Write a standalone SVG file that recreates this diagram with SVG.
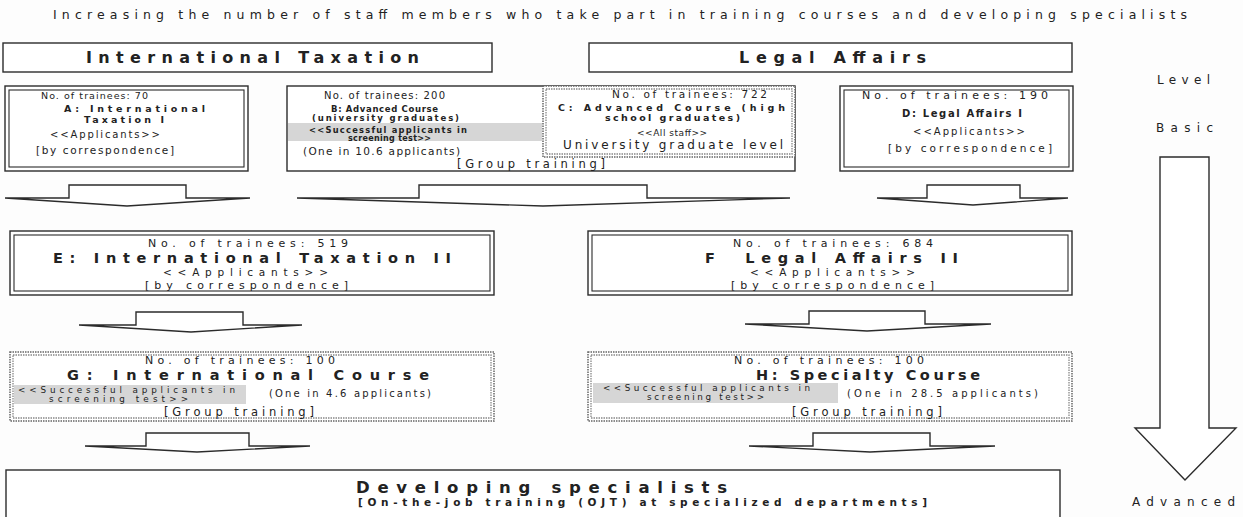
<svg xmlns="http://www.w3.org/2000/svg" width="1243" height="517" viewBox="0 0 1243 517">
<style>
text{font-family:"DejaVu Sans","Liberation Sans",Arial,sans-serif;fill:#222}
.b{font-weight:bold}
.box{fill:#fff;stroke:#2b2b2b;stroke-width:1.4}
.in{fill:none;stroke:#2b2b2b;stroke-width:1.1}
.dot{fill:#fff;stroke:#666;stroke-width:1.5;stroke-dasharray:1.5 1}
.dot2{fill:none;stroke:#888;stroke-width:1.3;stroke-dasharray:1.5 1}
.band{fill:#d6d6d6}
.arr{fill:#fff;stroke:#2b2b2b;stroke-width:1.4;stroke-linejoin:miter}
</style>
<rect width="1243" height="517" fill="#fdfdfd"/>
<text x="53" y="19" font-size="12.5" textLength="1134" lengthAdjust="spacing">Increasing the number of staff members who take part in training courses and developing specialists</text>

<g id="intl-tax">
<rect class="box" x="3" y="43" width="489" height="29"/>
<text class="b" x="86" y="63" font-size="16" textLength="333" lengthAdjust="spacing">International Taxation</text>
</g>
<g id="legal-affairs">
<rect class="box" x="589" y="43" width="483" height="29"/>
<text class="b" x="739" y="63" font-size="16" textLength="187" lengthAdjust="spacing">Legal Affairs</text>
</g>

<g id="level-scale">
<text x="1157" y="84" font-size="12" textLength="53" lengthAdjust="spacing">Level</text>
<text x="1156" y="132" font-size="12" textLength="57" lengthAdjust="spacing">Basic</text>
<polygon class="arr" points="1160,157 1209,157 1209,428 1236,428 1185,480 1135,428 1160,428"/>
<text x="1132" y="506" font-size="12" textLength="103" lengthAdjust="spacing">Advanced</text>
</g>

<g id="A">
<rect class="box" x="5" y="86" width="243" height="85"/>
<rect class="in" x="9" y="90" width="235" height="77"/>
<text x="41" y="99" font-size="9.5" textLength="107" lengthAdjust="spacing">No. of trainees: 70</text>
<text class="b" x="64" y="112" font-size="9.5" textLength="141" lengthAdjust="spacing">A: International</text>
<text class="b" x="84" y="122.5" font-size="9.5" textLength="80" lengthAdjust="spacing">Taxation I</text>
<text x="50" y="137.5" font-size="10" textLength="110" lengthAdjust="spacing">&lt;&lt;Applicants&gt;&gt;</text>
<text x="36" y="154" font-size="10.5" textLength="138" lengthAdjust="spacing">[by correspondence]</text>
</g>

<g id="B">
<rect class="box" x="287" y="86" width="508" height="85"/>
<rect class="band" x="288" y="123" width="254" height="18"/>
<text x="324" y="99" font-size="10" textLength="121" lengthAdjust="spacing">No. of trainees: 200</text>
<text class="b" x="331" y="111.5" font-size="8.5" textLength="107" lengthAdjust="spacing">B: Advanced Course</text>
<text class="b" x="312" y="120.5" font-size="8.5" textLength="147" lengthAdjust="spacing">(university graduates)</text>
<text class="b" x="309" y="132.5" font-size="8.3" textLength="158" lengthAdjust="spacing">&lt;&lt;Successful applicants in</text>
<text class="b" x="348" y="140.5" font-size="8" textLength="83" lengthAdjust="spacing">screening test&gt;&gt;</text>
<text x="303" y="154.5" font-size="10.5" textLength="157" lengthAdjust="spacing">(One in 10.6 applicants)</text>
<text x="457" y="168" font-size="11.5" textLength="148" lengthAdjust="spacing">[Group training]</text>
</g>

<g id="C">
<rect class="dot" x="543" y="86" width="252" height="71"/>
<rect class="dot2" x="546" y="89" width="246" height="65"/>
<text x="612" y="98" font-size="10.5" textLength="155" lengthAdjust="spacing">No. of trainees: 722</text>
<text class="b" x="558" y="111" font-size="9.5" textLength="227" lengthAdjust="spacing">C: Advanced Course (high</text>
<text class="b" x="605" y="120.5" font-size="9.5" textLength="135" lengthAdjust="spacing">school graduates)</text>
<text x="637" y="136" font-size="9" textLength="70" lengthAdjust="spacing">&lt;&lt;All staff&gt;&gt;</text>
<text x="563" y="149" font-size="12" textLength="220" lengthAdjust="spacing">University graduate level</text>
</g>

<g id="D">
<rect class="box" x="840" y="86" width="233" height="85"/>
<rect class="in" x="844" y="90" width="225" height="77"/>
<text x="862" y="99" font-size="11" textLength="186" lengthAdjust="spacing">No. of trainees: 190</text>
<text class="b" x="902" y="117" font-size="10" textLength="120" lengthAdjust="spacing">D: Legal Affairs I</text>
<text x="913" y="135" font-size="10" textLength="112" lengthAdjust="spacing">&lt;&lt;Applicants&gt;&gt;</text>
<text x="888" y="152" font-size="10.5" textLength="164" lengthAdjust="spacing">[by correspondence]</text>
</g>

<g id="E">
<rect class="box" x="10" y="231" width="484" height="64"/>
<rect class="in" x="14" y="235" width="476" height="56"/>
<text x="148" y="247" font-size="11" textLength="200" lengthAdjust="spacing">No. of trainees: 519</text>
<text class="b" x="53" y="263" font-size="14.5" textLength="398" lengthAdjust="spacing">E: International Taxation II</text>
<text x="163" y="276" font-size="10.5" textLength="165" lengthAdjust="spacing">&lt;&lt;Applicants&gt;&gt;</text>
<text x="145" y="288.5" font-size="11" textLength="203" lengthAdjust="spacing">[by correspondence]</text>
</g>

<g id="F">
<rect class="box" x="588" y="231" width="484" height="64"/>
<rect class="in" x="592" y="235" width="476" height="56"/>
<text x="733" y="247" font-size="11" textLength="200" lengthAdjust="spacing">No. of trainees: 684</text>
<text class="b" x="705" y="263" font-size="14.5" textLength="253" lengthAdjust="spacing" xml:space="preserve">F  Legal Affairs II</text>
<text x="750" y="276" font-size="10.5" textLength="165" lengthAdjust="spacing">&lt;&lt;Applicants&gt;&gt;</text>
<text x="731" y="288.5" font-size="11" textLength="203" lengthAdjust="spacing">[by correspondence]</text>
</g>

<g id="G">
<rect class="dot" x="10" y="352" width="484" height="69"/>
<rect class="dot2" x="13" y="355" width="478" height="63"/>
<rect class="band" x="14" y="385" width="232" height="19"/>
<text x="145" y="364" font-size="11" textLength="190" lengthAdjust="spacing">No. of trainees: 100</text>
<text class="b" x="67" y="380" font-size="14.5" textLength="362" lengthAdjust="spacing">G: International Course</text>
<text x="18" y="392.5" font-size="8.8" textLength="217" lengthAdjust="spacing">&lt;&lt;Successful applicants in</text>
<text x="49" y="401.5" font-size="8.8" textLength="139" lengthAdjust="spacing">screening test&gt;&gt;</text>
<text x="269" y="397" font-size="10" textLength="162" lengthAdjust="spacing">(One in 4.6 applicants)</text>
<text x="164" y="416" font-size="11.5" textLength="150" lengthAdjust="spacing">[Group training]</text>
</g>

<g id="H">
<rect class="dot" x="588" y="352" width="484" height="69"/>
<rect class="dot2" x="591" y="355" width="478" height="63"/>
<rect class="band" x="593" y="383" width="245" height="20"/>
<text x="734" y="364" font-size="11" textLength="190" lengthAdjust="spacing">No. of trainees: 100</text>
<text class="b" x="756" y="380" font-size="14.5" textLength="224" lengthAdjust="spacing">H: Specialty Course</text>
<text x="603" y="391" font-size="8.8" textLength="207" lengthAdjust="spacing">&lt;&lt;Successful applicants in</text>
<text x="647" y="400" font-size="8.8" textLength="117" lengthAdjust="spacing">screening test&gt;&gt;</text>
<text x="847" y="396.5" font-size="10" textLength="191" lengthAdjust="spacing">(One in 28.5 applicants)</text>
<text x="792" y="416" font-size="11.5" textLength="150" lengthAdjust="spacing">[Group training]</text>
</g>

<g id="specialists">
<rect class="box" x="6" y="470" width="1054" height="60"/>
<text class="b" x="356" y="493" font-size="16.5" textLength="371" lengthAdjust="spacing">Developing specialists</text>
<text class="b" x="358" y="506" font-size="10.5" textLength="569" lengthAdjust="spacing">[On-the-job training (OJT) at specialized departments]</text>
</g>

<g id="connectors">
<polygon class="arr" points="69,185 186,185 186,198 250,198 127,206 5,198 69,198"/>
<polygon class="arr" points="419,185 647,185 647,198 790,198 543,206 297,198 419,198"/>
<polygon class="arr" points="927,185 1020,185 1020,198 1068,198 973,205 877,198 927,198"/>
<polygon class="arr" points="136,312 243,312 243,325 302,325 191,332 79,325 136,325"/>
<polygon class="arr" points="809,311 925,311 925,324 991,324 867,331 745,324 809,324"/>
<polygon class="arr" points="146,433 249,433 249,446 310,446 197,452 85,446 146,446"/>
<polygon class="arr" points="813,433 930,433 930,446 995,446 870,452 749,446 813,446"/>
</g>
</svg>
